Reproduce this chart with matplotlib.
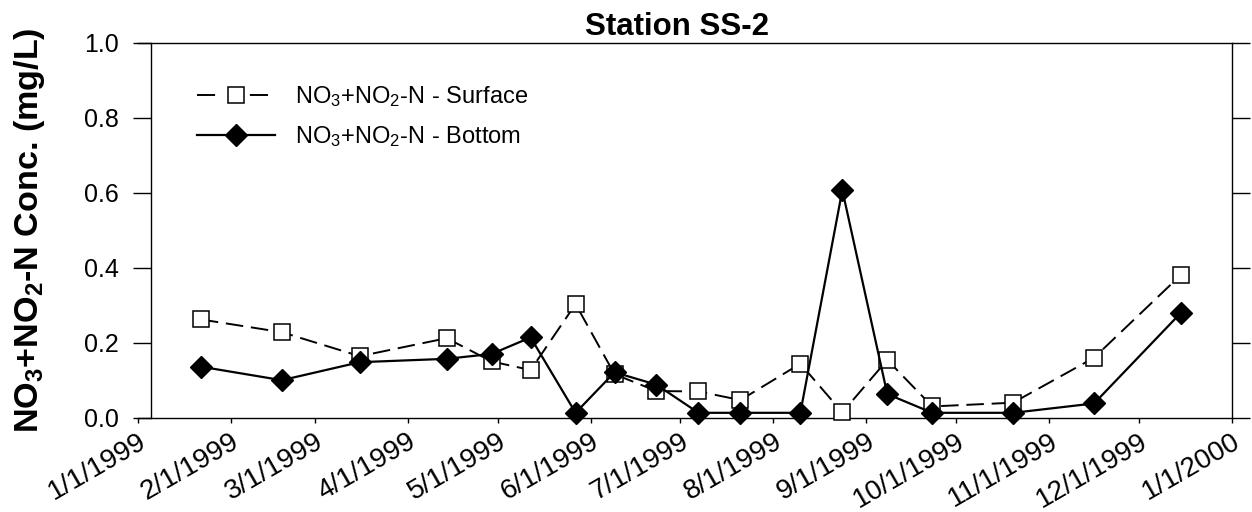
import datetime as dt
import matplotlib
matplotlib.use("Agg")
import matplotlib.pyplot as plt
from matplotlib.ticker import FormatStrFormatter

# Шрифты (Arial-подобный) и подстрочные индексы обычным шрифтом текста
plt.rcParams['font.family'] = ['Liberation Sans', 'DejaVu Sans']
plt.rcParams['mathtext.fontset'] = 'custom'
plt.rcParams['mathtext.rm'] = 'Liberation Sans'
plt.rcParams['mathtext.bf'] = 'Liberation Sans:bold'
plt.rcParams['mathtext.default'] = 'regular'

# ------------------------------
# Данные
# ------------------------------
sample_dates = ["1999-01-22", "1999-02-18", "1999-03-16", "1999-04-14", "1999-04-29",
                "1999-05-12", "1999-05-27", "1999-06-09", "1999-06-23", "1999-07-07",
                "1999-07-21", "1999-08-10", "1999-08-24", "1999-09-08", "1999-09-23",
                "1999-10-20", "1999-11-16", "1999-12-15"]
surface = [0.262, 0.228, 0.164, 0.212, 0.150, 0.127, 0.303, 0.116, 0.071, 0.070,
           0.047, 0.144, 0.014, 0.154, 0.030, 0.040, 0.160, 0.381]
bottom = [0.136, 0.100, 0.148, 0.157, 0.170, 0.214, 0.013, 0.121, 0.088, 0.013,
          0.013, 0.013, 0.607, 0.063, 0.013, 0.013, 0.038, 0.280]

tick_dates = ["1999-01-01", "1999-02-01", "1999-03-01", "1999-04-01", "1999-05-01",
              "1999-06-01", "1999-07-01", "1999-08-01", "1999-09-01", "1999-10-01",
              "1999-11-01", "1999-12-01", "2000-01-01"]
tick_labels = ["1/1/1999", "2/1/1999", "3/1/1999", "4/1/1999", "5/1/1999", "6/1/1999",
               "7/1/1999", "8/1/1999", "9/1/1999", "10/1/1999", "11/1/1999",
               "12/1/1999", "1/1/2000"]
y_ticks = [0.0, 0.2, 0.4, 0.6, 0.8, 1.0]


def to_dt(s):
    return dt.datetime.strptime(s, "%Y-%m-%d")


dates = [to_dt(s) for s in sample_dates]
ticks = [to_dt(s) for s in tick_dates]

fig = plt.figure(figsize=(12.52, 5.12), dpi=100)
ax = fig.add_axes([0.1102, 0.1842, 0.8738, 0.7324])

ax.plot(dates, surface, color="black", linewidth=1.4, linestyle=(0, (9, 4)),
        marker="s", markersize=11.2, markerfacecolor="white", markeredgecolor="black",
        markeredgewidth=1.1, label="NO$_3$+NO$_2$-N - Surface", clip_on=False, zorder=3)
ax.plot(dates, bottom, color="black", linewidth=1.6, linestyle="-",
        marker="D", markersize=11.7, markerfacecolor="black", markeredgecolor="black",
        label="NO$_3$+NO$_2$-N - Bottom", clip_on=False, zorder=4)

ax.set_xlim(ticks[0], ticks[-1])
ax.set_ylim(0, 1.0)
ax.set_xticks(ticks, tick_labels)
ax.set_yticks(y_ticks)
ax.yaxis.set_major_formatter(FormatStrFormatter("%.1f"))

# Оси в стиле SigmaPlot: левая ось смещена, засечки наружу с обеих сторон
ax.spines["left"].set_position(("axes", 0.0119))
for sp in ax.spines.values():
    sp.set_linewidth(1.0)
ax.tick_params(axis="y", direction="out", length=13, width=1, labelsize=18, pad=10,
               left=True, right=True, labelright=False)
ax.tick_params(axis="x", direction="out", length=3.6, width=1, labelsize=20, pad=4)
for lab in ax.get_xticklabels():
    lab.set_rotation(30)
    lab.set_ha("right")
    lab.set_rotation_mode("anchor")

ax.set_ylabel("NO$_3$+NO$_2$-N Conc. (mg/L)", fontsize=24.6, fontweight="bold")
ax.yaxis.set_label_coords(-0.083, 0.5)

fig.text(0.5407, 0.9316, "Station SS-2", ha="center", va="baseline",
         fontsize=22.5, fontweight="bold")

leg = ax.legend(loc="upper left", bbox_to_anchor=(0.0539, 0.89), frameon=False, fontsize=17,
                handlelength=3.3, handletextpad=0.85, labelspacing=0.65, borderpad=0,
                borderaxespad=0, numpoints=1)
# В легенде штрих симметричен вокруг маркера: "— □ —"
leg.get_lines()[0].set_linestyle((0, (9.3, 17.9)))

fig.savefig("out.png", dpi=100)
